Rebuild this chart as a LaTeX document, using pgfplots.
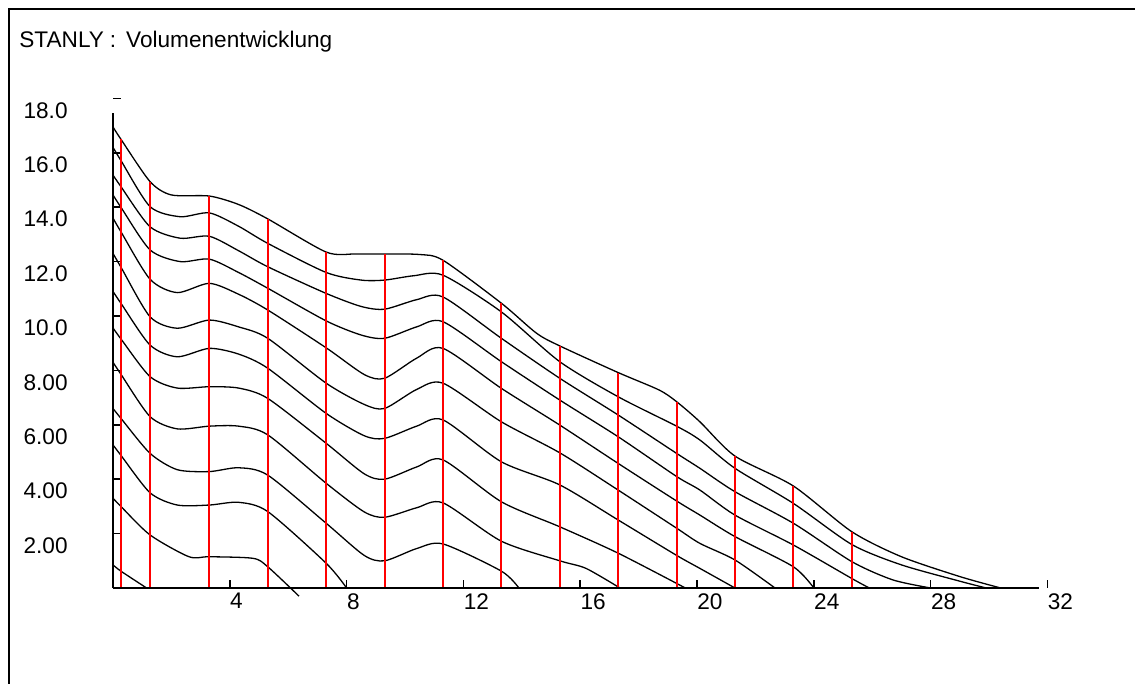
\documentclass[border=0pt]{standalone}
\usepackage{fontspec}
\setmainfont{Liberation Sans}
\usepackage{pgfplots}
\pgfplotsset{compat=1.18}
\begin{document}
\begin{tikzpicture}
\path[use as bounding box] (0,0) rectangle (567.5pt,342pt);
\fill[white] (0,0) rectangle (567.5pt,342pt);
\draw[line width=1pt] (4.5pt,0) -- (4.5pt,337.5pt) -- (567.5pt,337.5pt);
\node[anchor=base west, inner sep=0pt, font=\fontsize{11.3}{13}\selectfont] at (9.5pt,318pt) {STANLY\hspace{3pt}:\hspace{5pt}Volumenentwicklung};
\begin{axis}[
  at={(56.5pt,48pt)}, anchor=south west,
  x=14.6pt, y=13.6pt,
  xmin=0, xmax=32, ymin=0, ymax=18,
  clip=false,
  axis line style={draw=none},
  tick pos=left,
  xtick={4,8,12,16,20,24,28,32}, xticklabels={4,8,12,16,20,24,28,32},
  ytick={2,4,6,8,10,12,14,16,18}, yticklabels={2.00,4.00,6.00,8.00,10.0,12.0,14.0,16.0,18.0},
  tick align=inside, major tick length=4pt,
  tick style={black, line width=0.8pt},
  xticklabel style={anchor=north west, inner sep=0pt, yshift=-2.5pt, font=\fontsize{11.3}{13}\selectfont},
  yticklabel style={anchor=east, inner sep=0pt, xshift=-22.5pt, yshift=-6pt, font=\fontsize{11.3}{13}\selectfont},
]
% black curves
\addplot[black, line width=0.65pt, smooth, tension=0.45] coordinates {(0,16.95) (0.27,16.5) (1.27,14.94) (2.0,14.45) (3.3,14.41) (4.3,14.1) (5.3,13.57) (7.3,12.35) (8.3,12.28) (9.3,12.28) (10.5,12.26) (11.3,12.05) (13.3,10.47) (14.5,9.37) (15.3,8.9) (17.3,7.92) (18.7,7.28) (19.3,6.85) (20.1,6.11) (21.3,4.85) (23.3,3.75) (25.3,2.07) (27.0,1.15) (29.0,0.42) (30.4,0)};
\addplot[black, line width=0.65pt, smooth, tension=0.45] coordinates {(0,16.2) (0.27,15.72) (1.27,14.02) (2.3,13.65) (3.3,13.79) (4.3,13.3) (5.3,12.67) (7.3,11.6) (8.5,11.32) (9.3,11.32) (10.3,11.48) (11.3,11.5) (13.3,10.15) (15.3,8.32) (17.3,7.03) (19.3,5.95) (20.1,5.44) (21.3,4.4) (23.3,3.11) (25.3,1.6) (27,0.85) (29,0.25) (29.9,0)};
\addplot[black, line width=0.65pt, smooth, tension=0.45] coordinates {(0,15.18) (0.27,14.76) (1.27,13.28) (2.3,12.86) (3.3,12.93) (4.3,12.4) (5.3,11.81) (7.3,10.83) (8.5,10.35) (9.3,10.25) (10.4,10.6) (11.3,10.7) (13.3,9.18) (15.3,7.71) (17.3,6.36) (19.3,4.95) (20.1,4.4) (21.3,3.54) (23.3,2.38) (25.3,0.97) (26.7,0.3) (28.0,0)};
\addplot[black, line width=0.65pt, smooth, tension=0.45] coordinates {(0,14.45) (0.27,14.0) (1.27,12.43) (2.3,12.0) (3.3,12.09) (4.3,11.6) (5.3,11.02) (7.3,9.82) (8.5,9.3) (9.3,9.18) (10.4,9.6) (11.3,9.79) (13.3,8.32) (15.3,6.91) (17.3,5.56) (19.3,4.1) (20.1,3.6) (21.3,2.68) (23.3,1.58) (25.3,0.35) (25.9,0)};
\addplot[black, line width=0.65pt, smooth, tension=0.45] coordinates {(0,13.6) (0.27,13.1) (1.27,11.35) (2.2,10.86) (3.3,11.2) (4.3,10.8) (5.3,10.22) (7.3,8.83) (8.6,7.85) (9.3,7.71) (10.4,8.45) (11.3,8.81) (13.3,7.34) (15.3,5.99) (17.3,4.58) (19.3,3.2) (20.1,2.68) (21.3,1.89) (23.3,0.78) (24.0,0)};
\addplot[black, line width=0.65pt, smooth, tension=0.45] coordinates {(0,12.3) (0.27,11.8) (1.27,9.97) (2.2,9.55) (3.3,9.85) (4.3,9.6) (5.3,9.18) (7.3,7.53) (8.6,6.75) (9.3,6.6) (10.4,7.3) (11.3,7.53) (13.3,6.11) (15.3,4.97) (17.3,3.6) (19.3,2.2) (20.1,1.64) (21.3,1.03) (22.67,0)};
\addplot[black, line width=0.65pt, smooth, tension=0.45] coordinates {(0,10.9) (0.27,10.47) (1.27,8.93) (2.2,8.5) (3.3,8.81) (4.3,8.6) (5.3,8.08) (7.3,6.42) (8.6,5.6) (9.3,5.5) (10.4,5.95) (11.3,6.18) (13.3,4.64) (15.3,3.79) (17.3,2.5) (19.3,1.2) (20.1,0.72) (21.3,0)};
\addplot[black, line width=0.65pt, smooth, tension=0.45] coordinates {(0,9.56) (0.27,9.16) (1.27,7.77) (2.2,7.35) (3.3,7.4) (4.3,7.35) (5.3,6.97) (7.3,5.32) (8.6,4.2) (9.3,4.0) (10.4,4.45) (11.3,4.71) (13.3,3.17) (15.3,2.25) (17.3,1.28) (19.6,0)};
\addplot[black, line width=0.65pt, smooth, tension=0.45] coordinates {(0,8.3) (0.27,7.86) (1.27,6.3) (2.2,5.85) (3.3,5.95) (4.3,5.95) (5.3,5.63) (7.3,3.85) (8.6,2.8) (9.3,2.6) (10.4,2.95) (11.3,3.13) (13.3,1.72) (15.3,1.0) (16.2,0.72) (17.36,0)};
\addplot[black, line width=0.65pt, smooth, tension=0.45] coordinates {(0,6.6) (0.27,6.24) (1.27,4.95) (2.2,4.35) (3.3,4.28) (4.3,4.42) (5.3,4.15) (7.3,2.38) (8.6,1.2) (9.3,1.0) (10.4,1.45) (11.3,1.62) (13.3,0.62) (13.9,0)};
\addplot[black, line width=0.65pt, smooth, tension=0.45] coordinates {(0,5.26) (0.27,4.88) (1.27,3.5) (2.2,3.05) (3.3,3.05) (4.3,3.15) (5.3,2.81) (7.3,0.91) (8.0,0)};
\addplot[black, line width=0.65pt, smooth, tension=0.45] coordinates {(0,3.3) (0.27,3.0) (1.27,1.95) (2.6,1.15) (3.3,1.15) (4.8,1.09) (5.3,0.78) (6.37,-0.3)};
\addplot[black, line width=0.65pt, smooth, tension=0.45] coordinates {(0,0.85) (0.27,0.62) (1.15,0)};
% red station lines
\addplot[red, line width=1pt, ycomb] coordinates {(0.27,16.5) (1.27,14.94) (3.3,14.41) (5.3,13.57) (7.3,12.35) (9.3,12.28) (11.3,12.05) (13.3,10.47) (15.3,8.9) (17.3,7.92) (19.3,6.85) (21.3,4.85) (23.3,3.75) (25.3,2.07)};
% axis lines
\draw[line width=1pt] (axis cs:0,0) -- (axis cs:31.7,0);
\draw[line width=1pt] (axis cs:0,0) -- (axis cs:0,17.45);
\end{axis}
\end{tikzpicture}
\end{document}
